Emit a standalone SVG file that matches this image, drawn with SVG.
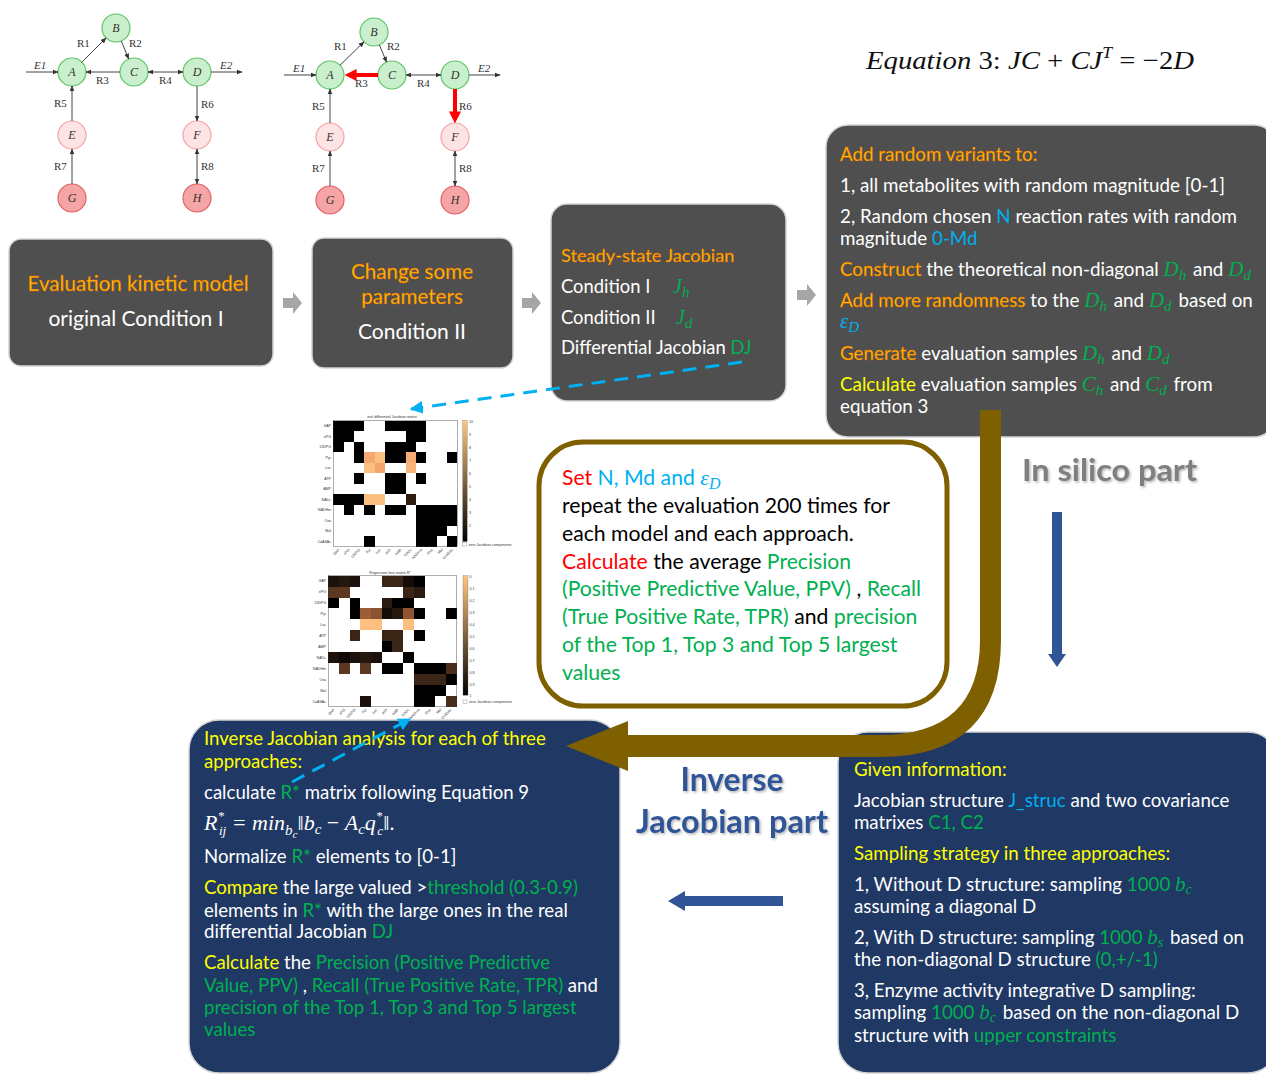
<svg xmlns="http://www.w3.org/2000/svg" width="1266" height="1075" viewBox="0 0 1266 1075">
<defs>
<style>
.t{font-family:Lato,"Open Sans",sans-serif;fill:#fff}
.bk{fill:#000}
.or{fill:#ffc000;stroke:#e85500;stroke-width:0.35}
.y{fill:#ffff00}
.g{fill:#00b050}
.c{fill:#00b0f0}
.r{fill:#ff0000}
.m{font-family:"Liberation Serif",serif;font-style:italic}
.up{font-family:"Liberation Serif",serif;font-style:normal}
.nd{stroke-width:1.2}
.ng{fill:#caefcd;stroke:#5ec466}
.np{fill:#fde3e3;stroke:#f5a3a3}
.nr{fill:#f5a5a5;stroke:#e35f5f}
.nl{font-family:"Liberation Serif",serif;font-style:italic;font-size:12px;fill:#333;text-anchor:middle}
.el{font-family:"Liberation Serif",serif;font-size:11px;fill:#333}
.edge{stroke:#444;stroke-width:1;fill:none}
.dbox{fill:#4f4f4f;stroke:#d4d4d4;stroke-width:1.5}
.bbox{fill:#1f3864;stroke:#d4d4d4;stroke-width:1.5}
.garrow{fill:#a6a6a6}
.tiny{font-family:"Liberation Sans",sans-serif;font-size:3.6px;fill:#333}
</style>
<marker id="ah" viewBox="0 0 10 10" refX="9" refY="5" markerWidth="6" markerHeight="6" markerUnits="userSpaceOnUse" orient="auto-start-reverse"><path d="M0,1 L10,5 L0,9 z" fill="#333"/></marker>
<marker id="ahr" viewBox="0 0 10 10" refX="0.5" refY="5" markerWidth="12" markerHeight="12" markerUnits="userSpaceOnUse" orient="auto"><path d="M0,0 L10,5 L0,10 z" fill="#ff0000"/></marker>
<marker id="ahc" viewBox="0 0 10 10" refX="9" refY="5" markerWidth="13" markerHeight="13" markerUnits="userSpaceOnUse" orient="auto"><path d="M0,0 L10,5 L0,10 z" fill="#00b0f0"/></marker>
<linearGradient id="copper" x1="0" y1="0" x2="0" y2="1"><stop offset="0" stop-color="#ffc77f"/><stop offset="1" stop-color="#000"/></linearGradient>
<filter id="sh" x="-10%" y="-20%" width="130%" height="150%"><feDropShadow dx="1.5" dy="1.5" stdDeviation="1" flood-color="#999" flood-opacity="0.7"/></filter>
<path id="blk" d="M0,-5 H10 V-11 L19,0 L10,11 V5 H0 Z"/>
</defs>
<rect width="1266" height="1075" fill="#fff"/>

<!-- Network 1 -->
<g id="network1">
<g id="n1A"><circle class="nd ng" cx="72" cy="72" r="14"/><text class="nl" x="72" y="76">A</text></g>
<g id="n1B"><circle class="nd ng" cx="116" cy="28" r="14"/><text class="nl" x="116" y="32">B</text></g>
<g id="n1C"><circle class="nd ng" cx="134" cy="72" r="14"/><text class="nl" x="134" y="76">C</text></g>
<g id="n1D"><circle class="nd ng" cx="197" cy="72" r="14"/><text class="nl" x="197" y="76">D</text></g>
<g id="n1E"><circle class="nd np" cx="72" cy="135" r="14"/><text class="nl" x="72" y="139">E</text></g>
<g id="n1F"><circle class="nd np" cx="197" cy="135" r="14"/><text class="nl" x="197" y="139">F</text></g>
<g id="n1G"><circle class="nd nr" cx="72" cy="198" r="14"/><text class="nl" x="72" y="202">G</text></g>
<g id="n1H"><circle class="nd nr" cx="197" cy="198" r="14"/><text class="nl" x="197" y="202">H</text></g>
<text class="el" x="34" y="69" font-style="italic">E1</text>
<text class="el" x="220" y="69" font-style="italic">E2</text>
<text class="el" x="77" y="47">R1</text>
<text class="el" x="129" y="47">R2</text>
<text class="el" x="96" y="84">R3</text>
<text class="el" x="159" y="84">R4</text>
<text class="el" x="54" y="107">R5</text>
<text class="el" x="201" y="108">R6</text>
<text class="el" x="54" y="170">R7</text>
<text class="el" x="201" y="170">R8</text>
</g>

<!-- Network 2 -->
<g id="network2">
<g id="n2A"><circle class="nd ng" cx="330" cy="75" r="14"/><text class="nl" x="330" y="79">A</text></g>
<g id="n2B"><circle class="nd ng" cx="374" cy="32" r="14"/><text class="nl" x="374" y="36">B</text></g>
<g id="n2C"><circle class="nd ng" cx="392" cy="75" r="14"/><text class="nl" x="392" y="79">C</text></g>
<g id="n2D"><circle class="nd ng" cx="455" cy="75" r="14"/><text class="nl" x="455" y="79">D</text></g>
<g id="n2E"><circle class="nd np" cx="330" cy="137" r="14"/><text class="nl" x="330" y="141">E</text></g>
<g id="n2F"><circle class="nd np" cx="455" cy="137" r="14"/><text class="nl" x="455" y="141">F</text></g>
<g id="n2G"><circle class="nd nr" cx="330" cy="200" r="14"/><text class="nl" x="330" y="204">G</text></g>
<g id="n2H"><circle class="nd nr" cx="455" cy="200" r="14"/><text class="nl" x="455" y="204">H</text></g>
<text class="el" x="293" y="72" font-style="italic">E1</text>
<text class="el" x="478" y="72" font-style="italic">E2</text>
<text class="el" x="334" y="50">R1</text>
<text class="el" x="387" y="50">R2</text>
<text class="el" x="355" y="87">R3</text>
<text class="el" x="417" y="87">R4</text>
<text class="el" x="312" y="110">R5</text>
<text class="el" x="459" y="110">R6</text>
<text class="el" x="312" y="172">R7</text>
<text class="el" x="459" y="172">R8</text>
</g>

<!-- Equation -->
<text id="equation3" x="866" y="69" font-family="'Liberation Serif',serif" font-size="26" fill="#111" textLength="328" lengthAdjust="spacingAndGlyphs"><tspan font-style="italic">Equation</tspan> 3: <tspan font-style="italic">JC</tspan> + <tspan font-style="italic">CJ</tspan><tspan font-style="italic" font-size="16" dy="-11">T</tspan><tspan dy="11"> = −2</tspan><tspan font-style="italic">D</tspan></text>

<!-- Top process boxes -->
<g id="box-eval">
<rect class="dbox" x="9" y="239" width="264" height="127" rx="12"/>
<text class="t or" x="138" y="291" font-size="20.6" text-anchor="middle">Evaluation kinetic model</text>
<text class="t" x="136" y="326" font-size="21" text-anchor="middle">original Condition I</text>
</g>
<g id="box-change">
<rect class="dbox" x="312" y="238" width="201" height="130" rx="12"/>
<text class="t or" x="412" y="279" font-size="20.6" text-anchor="middle">Change some</text>
<text class="t or" x="412" y="304" font-size="20.6" text-anchor="middle">parameters</text>
<text class="t" x="412" y="339" font-size="21" text-anchor="middle">Condition II</text>
</g>
<g id="box-jacobian">
<rect class="dbox" x="551" y="204" width="235" height="197" rx="16"/>
<text class="t or" x="561" y="262" font-size="18.2">Steady-state Jacobian</text>
<text class="t" x="561" y="293" font-size="18.4">Condition I</text>
<text class="m g" x="673" y="293" font-size="20">J<tspan font-size="15" dy="4">h</tspan></text>
<text class="t" x="561" y="324" font-size="18.4">Condition II</text>
<text class="m g" x="676" y="324" font-size="20">J<tspan font-size="15" dy="4">d</tspan></text>
<text class="t" x="561" y="354" font-size="18.4">Differential Jacobian <tspan class="g">DJ</tspan></text>
</g>
<g id="box-random">
<rect class="dbox" x="826" y="125" width="450" height="312" rx="22"/>
<text class="t or" x="840" y="161" font-size="18.8">Add random variants to:</text>
<text class="t" x="840" y="192" font-size="18.8">1, all metabolites with random magnitude [0-1]</text>
<text class="t" x="840" y="223" font-size="18.8">2, Random chosen <tspan class="c">N</tspan> reaction rates with random</text>
<text class="t" x="840" y="245" font-size="18.8">magnitude <tspan class="c">0-Md</tspan></text>
<text class="t" x="840" y="276" font-size="18.8"><tspan class="or">Construct</tspan> the theoretical non-diagonal <tspan class="m g" font-size="21">D</tspan><tspan class="m g" font-size="15" dy="4">h</tspan><tspan dy="-4" dx="2"> and </tspan><tspan class="m g" font-size="21">D</tspan><tspan class="m g" font-size="15" dy="4">d</tspan></text>
<text class="t" x="840" y="307" font-size="18.8"><tspan class="or">Add more randomness</tspan> to the <tspan class="m g" font-size="21">D</tspan><tspan class="m g" font-size="15" dy="4">h</tspan><tspan dy="-4" dx="2"> and </tspan><tspan class="m g" font-size="21">D</tspan><tspan class="m g" font-size="15" dy="4">d</tspan><tspan dy="-4" dx="2"> based on</tspan></text>
<text class="m c" x="840" y="328" font-size="21">ε<tspan font-size="15" dy="4">D</tspan></text>
<text class="t" x="840" y="360" font-size="18.8"><tspan class="or">Generate</tspan> evaluation samples <tspan class="m g" font-size="21">D</tspan><tspan class="m g" font-size="15" dy="4">h</tspan><tspan dy="-4" dx="2"> and </tspan><tspan class="m g" font-size="21">D</tspan><tspan class="m g" font-size="15" dy="4">d</tspan></text>
<text class="t" x="840" y="391" font-size="18.8"><tspan class="y">Calculate</tspan> evaluation samples <tspan class="m g" font-size="21">C</tspan><tspan class="m g" font-size="15" dy="4">h</tspan><tspan dy="-4" dx="2"> and </tspan><tspan class="m g" font-size="21">C</tspan><tspan class="m g" font-size="15" dy="4">d</tspan><tspan dy="-4" dx="2"> from</tspan></text>
<text class="t" x="840" y="413" font-size="18.8">equation 3</text>
</g>

<!-- Heatmap 1 -->
<g id="heatmap-real">
<text class="tiny" x="392" y="418" text-anchor="middle">real differential Jacobian matrix</text>
<g transform="translate(333.3,420.7) scale(10.33,10.5)" shape-rendering="crispEdges">
<g fill="#000">
<rect x="0" y="0" width="3" height="1"/><rect x="5" y="0" width="4" height="1"/>
<rect x="0" y="1" width="2" height="1"/><rect x="7" y="1" width="2" height="1"/>
<rect x="0" y="2" width="1" height="1"/><rect x="2" y="2" width="1" height="1"/><rect x="5" y="2" width="3" height="1"/>
<rect x="2" y="3" width="1" height="1"/><rect x="5" y="3" width="2" height="1"/><rect x="8" y="3" width="1" height="1"/><rect x="11" y="3" width="1" height="1"/>
<rect x="2" y="5" width="1" height="1"/><rect x="5" y="5" width="2" height="1"/><rect x="8" y="5" width="1" height="1"/>
<rect x="5" y="6" width="2" height="1"/>
<rect x="0" y="7" width="3" height="1"/>
<rect x="1" y="8" width="1" height="1"/><rect x="3" y="8" width="1" height="1"/><rect x="5" y="8" width="2" height="1"/><rect x="8" y="8" width="4" height="1"/>
<rect x="8" y="9" width="4" height="1"/>
<rect x="8" y="10" width="3" height="1"/>
<rect x="3" y="11" width="1" height="1"/><rect x="8" y="11" width="2" height="1"/><rect x="11" y="11" width="1" height="1"/>
</g>
<rect x="3" y="3" width="1" height="1" fill="#f6a872"/><rect x="4" y="3" width="1" height="1" fill="#fbbf80"/><rect x="7" y="3" width="1" height="1" fill="#f6aa74"/>
<rect x="3" y="4" width="1" height="1" fill="#fbbf80"/><rect x="4" y="4" width="1" height="1" fill="#f4a46c"/><rect x="7" y="4" width="1" height="1" fill="#f8b479"/>
<rect x="3" y="7" width="2" height="1" fill="#fbbf80"/><rect x="7" y="7" width="1" height="1" fill="#2e1c10"/>
</g>
<rect x="333.3" y="420.7" width="124" height="126" fill="none" stroke="#333" stroke-width="0.4"/>
<g class="tiny" text-anchor="end">
<text x="331" y="427">GAP</text><text x="331" y="437.5">ePG</text><text x="331" y="448">13DPG</text><text x="331" y="458.5">Pyr</text><text x="331" y="469">Lac</text><text x="331" y="479.5">ATP</text><text x="331" y="490">AMP</text><text x="331" y="500.5">NADc</text><text x="331" y="511">NADHm</text><text x="331" y="521.5">Oxa</text><text x="331" y="532">Mal</text><text x="331" y="542.5">CoASAc</text>
</g>
<g class="tiny" text-anchor="end">
<text transform="translate(340,550) rotate(-45)">GAP</text><text transform="translate(350,550) rotate(-45)">ePG</text><text transform="translate(360.5,550) rotate(-45)">13DPG</text><text transform="translate(371,550) rotate(-45)">Pyr</text><text transform="translate(381,550) rotate(-45)">Lac</text><text transform="translate(391.5,550) rotate(-45)">ATP</text><text transform="translate(402,550) rotate(-45)">AMP</text><text transform="translate(412,550) rotate(-45)">NADc</text><text transform="translate(422.5,550) rotate(-45)">NADHm</text><text transform="translate(433,550) rotate(-45)">Oxa</text><text transform="translate(443,550) rotate(-45)">Mal</text><text transform="translate(453.5,550) rotate(-45)">CoASAc</text>
</g>
<rect x="462.7" y="420.5" width="4.5" height="121" fill="url(#copper)" stroke="#666" stroke-width="0.3"/>
<g class="tiny" font-size="3">
<text x="469" y="423">10</text><text x="469" y="436">9</text><text x="469" y="449">8</text><text x="469" y="462">7</text><text x="469" y="475">6</text><text x="469" y="488">5</text><text x="469" y="501">4</text><text x="469" y="514">3</text><text x="469" y="527">2</text>
</g>
<rect x="462.7" y="542.5" width="4" height="3.5" fill="#fff" stroke="#555" stroke-width="0.3"/>
<text class="tiny" x="468.5" y="545.5" font-size="3">zero Jacobian components</text>
</g>

<!-- Heatmap 2 -->
<g id="heatmap-regression">
<text class="tiny" x="390" y="574" text-anchor="middle">Regression loss matrix R*</text>
<g transform="translate(328.3,575.7) scale(10.7,10.9)" shape-rendering="crispEdges">
<rect x="0" y="0" width="1" height="1" fill="#1c120b"/><rect x="1" y="0" width="1" height="1" fill="#24170d"/><rect x="2" y="0" width="1" height="1" fill="#1c120b"/><rect x="5" y="0" width="2" height="1" fill="#3b2516"/><rect x="7" y="0" width="1" height="1" fill="#140c07"/><rect x="8" y="0" width="1" height="1" fill="#000"/>
<rect x="0" y="1" width="2" height="1" fill="#5c3722"/><rect x="7" y="1" width="1" height="1" fill="#3b2516"/><rect x="8" y="1" width="1" height="1" fill="#2a1a0f"/>
<rect x="0" y="2" width="1" height="1" fill="#000"/><rect x="2" y="2" width="1" height="1" fill="#000"/><rect x="5" y="2" width="1" height="1" fill="#2a1a0f"/><rect x="6" y="2" width="2" height="1" fill="#000"/>
<rect x="2" y="3" width="1" height="1" fill="#000"/><rect x="3" y="3" width="1" height="1" fill="#9c5e37"/><rect x="4" y="3" width="1" height="1" fill="#8a5230"/><rect x="5" y="3" width="1" height="1" fill="#140c07"/><rect x="6" y="3" width="1" height="1" fill="#24170d"/><rect x="7" y="3" width="1" height="1" fill="#905533"/><rect x="8" y="3" width="1" height="1" fill="#000"/><rect x="11" y="3" width="1" height="1" fill="#000"/>
<rect x="3" y="4" width="2" height="1" fill="#fdbf7e"/><rect x="7" y="4" width="1" height="1" fill="#fdbf7e"/>
<rect x="2" y="5" width="1" height="1" fill="#3b2516"/><rect x="5" y="5" width="2" height="1" fill="#3b2516"/><rect x="8" y="5" width="1" height="1" fill="#000"/>
<rect x="5" y="6" width="1" height="1" fill="#000"/><rect x="6" y="6" width="1" height="1" fill="#3b2516"/>
<rect x="0" y="7" width="1" height="1" fill="#1c120b"/><rect x="1" y="7" width="1" height="1" fill="#0e0905"/><rect x="2" y="7" width="1" height="1" fill="#1c120b"/><rect x="3" y="7" width="1" height="1" fill="#24170d"/><rect x="4" y="7" width="1" height="1" fill="#1c120b"/><rect x="7" y="7" width="1" height="1" fill="#000"/>
<rect x="1" y="8" width="1" height="1" fill="#5c3722"/><rect x="3" y="8" width="1" height="1" fill="#5c3722"/><rect x="5" y="8" width="2" height="1" fill="#000"/><rect x="8" y="8" width="3" height="1" fill="#000"/><rect x="11" y="8" width="1" height="1" fill="#4a2c1a"/>
<rect x="8" y="9" width="3" height="1" fill="#3b2516"/><rect x="11" y="9" width="1" height="1" fill="#000"/>
<rect x="8" y="10" width="3" height="1" fill="#000"/>
<rect x="3" y="11" width="1" height="1" fill="#1c120b"/><rect x="8" y="11" width="2" height="1" fill="#000"/><rect x="11" y="11" width="1" height="1" fill="#4a2c1a"/>
</g>
<rect x="328.3" y="575.7" width="128.4" height="130.8" fill="none" stroke="#333" stroke-width="0.4"/>
<g class="tiny" text-anchor="end">
<text x="326" y="582">GAP</text><text x="326" y="593">ePG</text><text x="326" y="604">13DPG</text><text x="326" y="615">Pyr</text><text x="326" y="626">Lac</text><text x="326" y="637">ATP</text><text x="326" y="647.5">AMP</text><text x="326" y="658.5">NADc</text><text x="326" y="669.5">NADHm</text><text x="326" y="680.5">Oxa</text><text x="326" y="691.5">Mal</text><text x="326" y="702.5">CoASAc</text>
</g>
<g class="tiny" text-anchor="end">
<text transform="translate(335,710) rotate(-45)">GAP</text><text transform="translate(345.5,710) rotate(-45)">ePG</text><text transform="translate(356,710) rotate(-45)">13DPG</text><text transform="translate(367,710) rotate(-45)">Pyr</text><text transform="translate(377.5,710) rotate(-45)">Lac</text><text transform="translate(388,710) rotate(-45)">ATP</text><text transform="translate(399,710) rotate(-45)">AMP</text><text transform="translate(409.5,710) rotate(-45)">NADc</text><text transform="translate(420,710) rotate(-45)">NADHm</text><text transform="translate(431,710) rotate(-45)">Oxa</text><text transform="translate(441.5,710) rotate(-45)">Mal</text><text transform="translate(452,710) rotate(-45)">CoASAc</text>
</g>
<rect x="463" y="575.7" width="5" height="119.5" fill="url(#copper)" stroke="#666" stroke-width="0.3"/>
<g class="tiny" font-size="3">
<text x="469.5" y="578">0</text><text x="469.5" y="590">0.1</text><text x="469.5" y="602">0.2</text><text x="469.5" y="614">0.3</text><text x="469.5" y="626">0.4</text><text x="469.5" y="638">0.5</text><text x="469.5" y="650">0.6</text><text x="469.5" y="662">0.7</text><text x="469.5" y="674">0.8</text><text x="469.5" y="686">0.9</text><text x="469.5" y="697">1</text>
</g>
<rect x="463" y="700" width="4" height="3.5" fill="#fff" stroke="#555" stroke-width="0.3"/>
<text class="tiny" x="469" y="703" font-size="3">zero Jacobian components</text>
</g>

<!-- Yellow-bordered box -->
<g id="box-repeat">
<rect x="539" y="442" width="408" height="264" rx="44" fill="#fff" stroke="#7f6000" stroke-width="5"/>
<text class="t bk" x="562" y="485" font-size="21.2"><tspan class="r">Set</tspan><tspan class="c"> N, Md and </tspan><tspan class="m c" font-size="22">ε</tspan><tspan class="m c" font-size="16" dy="4">D</tspan></text>
<text class="t bk" x="562" y="513" font-size="21.2">repeat the evaluation 200 times for</text>
<text class="t bk" x="562" y="541" font-size="21.2">each model and each approach.</text>
<text class="t bk" x="562" y="569" font-size="21.2"><tspan class="r">Calculate</tspan> the average <tspan class="g">Precision</tspan></text>
<text class="t bk" x="562" y="596" font-size="21.2"><tspan class="g">(Positive Predictive Value, PPV)</tspan> , <tspan class="g">Recall</tspan></text>
<text class="t bk" x="562" y="624" font-size="21.2"><tspan class="g">(True Positive Rate, TPR)</tspan> and <tspan class="g">precision</tspan></text>
<text class="t g" x="562" y="652" font-size="21.2">of the Top 1, Top 3 and Top 5 largest</text>
<text class="t g" x="562" y="680" font-size="21.2">values</text>
</g>

<!-- Section labels -->
<text id="label-insilico" x="1022" y="481" font-family="Lato,sans-serif" font-weight="bold" font-size="31" fill="#7f7f7f" filter="url(#sh)" textLength="175" lengthAdjust="spacingAndGlyphs">In silico part</text>
<g id="label-inverse" font-family="Lato,sans-serif" font-weight="bold" font-size="32" fill="#2f5597" text-anchor="middle" filter="url(#sh)">
<text x="732" y="791" textLength="103" lengthAdjust="spacingAndGlyphs">Inverse</text>
<text x="732" y="833" textLength="192" lengthAdjust="spacingAndGlyphs">Jacobian part</text>
</g>

<!-- Bottom boxes -->
<g id="box-inverse">
<rect class="bbox" x="189" y="720" width="431" height="353" rx="30"/>
<text class="t y" x="204" y="745" font-size="18.6">Inverse Jacobian analysis for each of three</text>
<text class="t y" x="204" y="768" font-size="18.6">approaches:</text>
<text class="t" x="204" y="799" font-size="18.6">calculate <tspan class="g">R*</tspan> matrix following Equation 9</text>
<text class="m" x="204" y="830" font-size="22" fill="#fff">R<tspan font-size="13" dy="-10">*</tspan><tspan font-size="13" dx="-5" dy="15">ij</tspan><tspan dy="-5"> = min</tspan><tspan font-size="15" dy="5">b</tspan><tspan font-size="11" dy="3">c</tspan><tspan dy="-8" class="up">‖</tspan>b<tspan font-size="15" dy="4">c</tspan><tspan dy="-4" class="up"> − </tspan>A<tspan font-size="15" dy="4">c</tspan><tspan dy="-4">q</tspan><tspan font-size="13" dy="-10">*</tspan><tspan font-size="13" dx="-5" dy="15">c</tspan><tspan dy="-5" class="up">‖.</tspan></text>
<text class="t" x="204" y="863" font-size="18.6">Normalize <tspan class="g">R*</tspan> elements to [0-1]</text>
<text class="t" x="204" y="894" font-size="18.6"><tspan class="y">Compare</tspan> the large valued &gt;<tspan class="g">threshold (0.3-0.9)</tspan></text>
<text class="t" x="204" y="917" font-size="18.6">elements in <tspan class="g">R*</tspan> with the large ones in the real</text>
<text class="t" x="204" y="938" font-size="18.6">differential Jacobian <tspan class="g">DJ</tspan></text>
<text class="t" x="204" y="969" font-size="18.6"><tspan class="y">Calculate</tspan> the <tspan class="g">Precision (Positive Predictive</tspan></text>
<text class="t" x="204" y="992" font-size="18.6"><tspan class="g">Value, PPV)</tspan> , <tspan class="g">Recall (True Positive Rate, TPR)</tspan> and</text>
<text class="t g" x="204" y="1014" font-size="18.6">precision of the Top 1, Top 3 and Top 5 largest</text>
<text class="t g" x="204" y="1036" font-size="18.6">values</text>
</g>
<g id="box-given">
<rect class="bbox" x="838" y="732" width="440" height="341" rx="30"/>
<text class="t y" x="854" y="776" font-size="18.7">Given information:</text>
<text class="t" x="854" y="807" font-size="18.7">Jacobian structure <tspan class="c">J_struc</tspan> and two covariance</text>
<text class="t" x="854" y="829" font-size="18.7">matrixes <tspan class="g">C1, C2</tspan></text>
<text class="t y" x="854" y="860" font-size="18.7">Sampling strategy in three approaches:</text>
<text class="t" x="854" y="891" font-size="18.7">1, Without D structure: sampling <tspan class="g">1000 </tspan><tspan class="m g" font-size="21">b</tspan><tspan class="m g" font-size="14" dy="3">c</tspan></text>
<text class="t" x="854" y="913" font-size="18.7">assuming a diagonal D</text>
<text class="t" x="854" y="944" font-size="18.7">2, With D structure: sampling <tspan class="g">1000 </tspan><tspan class="m g" font-size="21">b</tspan><tspan class="m g" font-size="14" dy="3">s</tspan><tspan dy="-3" dx="2"> based on</tspan></text>
<text class="t" x="854" y="966" font-size="18.7">the non-diagonal D structure <tspan class="g">(0,+/-1)</tspan></text>
<text class="t" x="854" y="997" font-size="18.7">3, Enzyme activity integrative D sampling:</text>
<text class="t" x="854" y="1019" font-size="18.7">sampling <tspan class="g">1000 </tspan><tspan class="m g" font-size="21">b</tspan><tspan class="m g" font-size="14" dy="3">c</tspan><tspan dy="-3" dx="2"> based on the non-diagonal D</tspan></text>
<text class="t" x="854" y="1042" font-size="18.7">structure with <tspan class="g">upper constraints</tspan></text>
</g>

<!-- Connectors -->
<g id="connectors">
<g id="net1-edges" class="edge">
<line x1="26" y1="72" x2="58" y2="72" marker-end="url(#ah)"/>
<line x1="81.9" y1="62.1" x2="106.1" y2="37.9" marker-end="url(#ah)"/>
<line x1="121.3" y1="41" x2="128.7" y2="59" marker-end="url(#ah)"/>
<line x1="120" y1="72" x2="86" y2="72" marker-end="url(#ah)"/>
<line x1="148" y1="72" x2="183" y2="72" marker-start="url(#ah)" marker-end="url(#ah)"/>
<line x1="211" y1="72" x2="242" y2="72" marker-end="url(#ah)"/>
<line x1="72" y1="121" x2="72" y2="86" marker-end="url(#ah)"/>
<line x1="72" y1="184" x2="72" y2="149" marker-end="url(#ah)"/>
<line x1="197" y1="86" x2="197" y2="121" marker-end="url(#ah)"/>
<line x1="197" y1="149" x2="197" y2="184" marker-start="url(#ah)" marker-end="url(#ah)"/>
</g>
<g id="net2-edges" class="edge">
<line x1="284" y1="75" x2="316" y2="75" marker-end="url(#ah)"/>
<line x1="340" y1="65.2" x2="364" y2="41.8" marker-end="url(#ah)"/>
<line x1="379.4" y1="44.9" x2="386.6" y2="62.1" marker-end="url(#ah)"/>
<line x1="378" y1="75" x2="356" y2="75" stroke="#ff0000" stroke-width="4" marker-end="url(#ahr)"/>
<line x1="406" y1="75" x2="441" y2="75" marker-start="url(#ah)" marker-end="url(#ah)"/>
<line x1="469" y1="75" x2="500" y2="75" marker-end="url(#ah)"/>
<line x1="330" y1="123" x2="330" y2="89" marker-end="url(#ah)"/>
<line x1="330" y1="186" x2="330" y2="151" marker-end="url(#ah)"/>
<line x1="455" y1="89" x2="455" y2="112" stroke="#ff0000" stroke-width="4" marker-end="url(#ahr)"/>
<line x1="455" y1="151" x2="455" y2="186" marker-start="url(#ah)" marker-end="url(#ah)"/>
</g>
<use href="#blk" class="garrow" transform="translate(283,303)"/>
<use href="#blk" class="garrow" transform="translate(522,303)"/>
<use href="#blk" class="garrow" transform="translate(797,295)"/>
<line x1="742" y1="362" x2="411" y2="409" stroke="#00b0f0" stroke-width="3" stroke-dasharray="14,9" marker-end="url(#ahc)"/>
<line x1="292" y1="782" x2="410" y2="719" stroke="#00b0f0" stroke-width="3" stroke-dasharray="14,9" marker-end="url(#ahc)"/>
<path id="loop-arrow" d="M980,410 H1001 V640 Q1001,757 880,757 H628 V771 L566,746 L628,721 V735 H880 Q980,735 980,640 Z" fill="#7f6000"/>
<path id="down-arrow" d="M1052,512 H1062 V654 H1066 L1057,667 L1048,654 H1052 Z" fill="#2f5597"/>
<path id="left-arrow" d="M783,896 V906 H685 V911 L668,901 L685,891 V896 Z" fill="#2f5597"/>
</g>
</svg>
